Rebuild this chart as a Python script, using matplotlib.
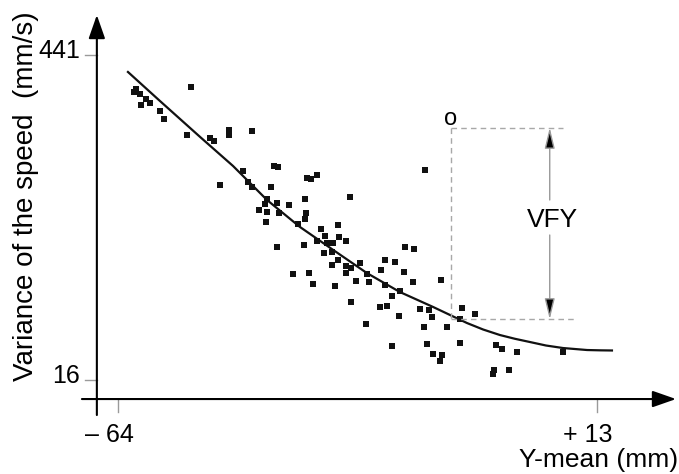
import numpy as np
import matplotlib
matplotlib.use("Agg")
import matplotlib.pyplot as plt

plt.rcParams['font.family'] = ['Liberation Sans', 'DejaVu Sans']

# measured points: Y-mean (mm) against variance of the speed (mm/s)
y_mean = [-61.5, -61.1, -60.5, -60.35, -59.55, -58.9, -57.2, -56.6, -52.2, -52.9,
          -49.2, -48.6, -46.2, -46.2, -42.4, -43.9, -47.65, -43.15, -42.4, -39.0,
          -38.3, -39.45, -40.1, -38.5, -36.5, -40.4, -41.3, -40.05, -38.2, -40.2,
          -38.4, -33.6, -32.9, -32.05, -34.0, -33.7, -33.9, -35.0, -26.75, -31.4,
          -30.7, -32.0, -30.4, -29.5, -28.6, -28.4, -27.35, -34.1, -30.9, -29.65,
          -28.6, -29.65, -27.3, -26.55, -25.05, -27.35, -21.1, -19.5, -21.8, -23.9,
          -25.7, -23.65, -21.1, -20.0, -35.8, -33.25, -32.65, -29.1, -17.8, -16.4,
          -18.1, -16.5, -12.0, -18.7, -26.6, -21.9, -20.8, -18.8, -15.5, -14.0,
          -13.6, -24.1, -14.8, -11.15, -8.65, -6.65, -8.95, -19.9, -14.3, -9.05,
          -3.3, -13.3, -11.9, -12.2, -3.5, -3.75, -2.2, 0.15, 7.6, -1.2,
          -14.7]
var_speed = [392.2, 396.1, 390.4, 376.0, 383.1, 377.8, 367.4, 356.9, 399.2, 336.4,
             332.1, 328.5, 342.9, 336.0, 341.2, 289.3, 271.4, 274.9, 268.8, 295.8,
             294.1, 268.0, 253.1, 247.9, 244.8, 246.2, 237.9, 236.1, 234.8, 223.0,
             189.5, 279.8, 279.2, 284.5, 253.1, 234.8, 226.9, 220.0, 255.7, 213.1,
             204.3, 197.4, 195.5, 195.2, 219.1, 203.4, 197.4, 192.5, 182.5, 183.8,
             172.9, 166.0, 165.1, 162.1, 169.0, 155.5, 172.5, 170.3, 159.5, 154.6,
             145.1, 144.2, 140.6, 125.5, 154.6, 156.3, 141.1, 138.9, 189.5, 187.7,
             157.2, 144.2, 146.8, 132.0, 117.6, 111.1, 112.8, 100.1, 108.5, 107.5,
             98.4, 89.6, 85.3, 85.7, 110.2, 102.3, 95.4, 60.5, 62.7, 64.4,
             62.2, 50.4, 49.1, 41.2, 28.7, 23.8, 56.1, 53.0, 52.2, 29.5,
             290.6]

# fitted curve
fit_x = [-62.4, -57.25, -50.8, -45.5, -40.05, -34.75, -29.4, -24.0, -18.7, -13.35,
         -7.9, -5.3, -2.6, -0.2, 2.2, 4.8, 7.55, 11.4, 13.5, 15.4]
fit_v = [418.8, 380.8, 333.8, 295.8, 251.4, 216.1, 186.0, 155.9, 131.1, 111.5,
         90.5, 82.0, 74.8, 69.9, 65.7, 61.1, 57.8, 55.2, 54.8, 54.6]

x_ticks = [-64, 13]
x_tick_labels = ['\u2013 64', '+ 13']
y_ticks = [16, 441]
y_tick_labels = ['16', '441']

# highlighted observation and the fit value at the same Y-mean
obs_x, obs_v = -10.45, 345.9
obs_fit = 95.4

fig = plt.figure(figsize=(6.79, 4.74), dpi=100)
ax = fig.add_axes([0, 0, 1, 1])
ax.set_xlim(-82.97, 26.18)
ax.set_ylim(-106.92, 512.92)
ax.axis('off')

# axes with arrows
x0, v0 = -67.4, -8.9
head = dict(arrowstyle='-|>,head_length=0.8,head_width=0.28', mutation_scale=18,
            color='black', lw=1.5, shrinkA=0, shrinkB=0)
ax.annotate('', xy=(x0, 493.3), xytext=(x0, -29.8), arrowprops=head)
ax.annotate('', xy=(25.7, v0), xytext=(-69.8, v0), arrowprops=head)

for t, lab in zip(y_ticks, y_tick_labels):
    ax.plot([-69.3, x0], [t, t], color='#9a9a9a', lw=1)
    ax.annotate(lab, xy=(x0, t), xytext=(-17, -3), textcoords='offset pixels',
                ha='right', va='baseline', fontsize=18)
for t, lab in zip(x_ticks, x_tick_labels):
    ax.plot([t, t], [v0, -25.8], color='#9a9a9a', lw=1)
    ax.annotate(lab, xy=(t, v0), xytext=(15.5, -43), textcoords='offset pixels',
                ha='right', va='baseline', fontsize=18)

fig.text(0.0383, 0.5865, 'Variance of the speed  (mm/s)', rotation=90,
         ha='center', va='center', fontsize=20)
fig.text(0.9985, 0.0158, 'Y-mean (mm)', ha='right', va='baseline', fontsize=19)

# data and fit
ax.plot(y_mean, var_speed, 's', color='#111111', ms=3.8, mew=0)
ax.plot(fit_x, fit_v, color='#111111', lw=1.6)

# VFY annotation
dash = dict(color='#a8a8a8', lw=1, dashes=(4, 3))
ax.plot([obs_x, obs_x], [obs_v, obs_fit], **dash)
ax.plot([obs_x, 7.5], [obs_v, obs_v], **dash)
ax.plot([obs_x, 9.5], [obs_fit, obs_fit], **dash)
ax.annotate('o', xy=(obs_x, obs_v), xytext=(-1, 2.5), textcoords='offset pixels',
            ha='center', va='baseline', fontsize=17)

ax_x = 5.4
small = dict(arrowstyle='-|>,head_length=0.9,head_width=0.22', mutation_scale=14,
             fc='black', ec='#999999', lw=1, shrinkA=0, shrinkB=0)
ax.annotate('', xy=(ax_x, obs_v), xytext=(ax_x, 251.4), arrowprops=small)
ax.annotate('', xy=(ax_x, obs_fit), xytext=(ax_x, 205.6), arrowprops=small)
ax.text(5.8, 216.1, 'VFY', ha='center', va='baseline', fontsize=19)

fig.savefig('out.png', dpi=100)
